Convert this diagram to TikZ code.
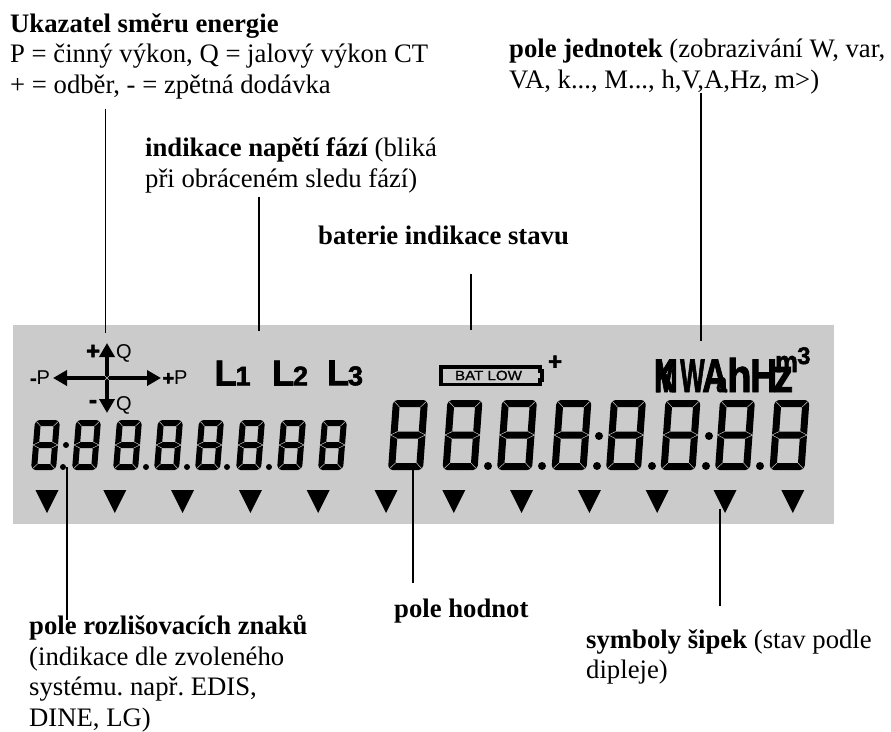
\documentclass[tikz,border=0pt]{standalone}
\usepackage{fontspec}
\setmainfont{Liberation Serif}
\setsansfont{Liberation Sans}[BoldFeatures={FakeBold=2}]
\newfontfamily\batfont{Liberation Sans}[FakeBold=1]
\usetikzlibrary{arrows.meta}
\definecolor{panelgray}{HTML}{CBCBCB}

\newcommand{\segdigit}[5]{%
  \begin{scope}[shift={(#1,#2)},#3]
    \pgfmathsetmacro{\su}{#4}
    \pgfmathsetmacro{\sv}{#5}
    \fill[even odd rule] [rounded corners=4.5pt] (0,0) -- (1,0) -- (1,1) -- (0,1) -- cycle
      [sharp corners] (\su,\sv) -- ({1-\su},\sv) -- ({1-\su},{.5-\sv/2}) -- (\su,{.5-\sv/2}) -- cycle
      (\su,{.5+\sv/2}) -- ({1-\su},{.5+\sv/2}) -- ({1-\su},{1-\sv}) -- (\su,{1-\sv}) -- cycle;
    \foreach \sx/\sy in {0/0,1/0,0/1,1/1}
      \draw[segtick] (\sx,\sy) -- ({\sx+\su*(1-2*\sx)},{\sy+\sv*(1-2*\sy)});
    \foreach \sx in {0,1}
      \draw[segtick] ({\sx+\su*(1-2*\sx)},{.5-\sv/2}) -- (\sx,.5) -- ({\sx+\su*(1-2*\sx)},{.5+\sv/2});
  \end{scope}}

\begin{document}
\begin{tikzpicture}[
  x=1pt, y=-1pt,
  textlabel/.style={anchor=north west, inner sep=0pt, align=left, font=\fontsize{26.7}{30.5}\selectfont\frenchspacing},
  leader/.style={draw, line width=1.7pt},
  segtick/.style={draw=panelgray, line width=.5pt},
  bigdigit/.style={x={(35pt,0pt)}, y={(-5pt,-70pt)}},
  smalldigit/.style={x={(25pt,0pt)}, y={(-4pt,-50pt)}},
  segdot/.style={fill, circle, inner sep=0pt},
  crossarm/.style={draw, line width=4.5pt, -{Triangle[length=14pt,width=15pt]}},
  crosstext/.style={inner sep=0pt, font=\sffamily\fontsize{20}{20}\selectfont},
  crosssign/.style={inner sep=0pt, font=\sffamily\bfseries\fontsize{24}{24}\selectfont},
  phasetext/.style={inner sep=0pt, font=\sffamily\bfseries\fontsize{36}{36}\selectfont},
  unitglyph/.style={inner sep=0pt, anchor=base west, font=\sffamily\bfseries\fontsize{47}{47}\selectfont},
]
  \useasboundingbox (0,0) rectangle (891,731);

  % Display panel
  \fill[panelgray] (13,325) rectangle (834,524);

  % Upper labels
  \node[textlabel] (enerlabel) at (10,13) {\textbf{Ukazatel směru energie}\\
    P = činný výkon, Q = jalový výkon CT\\
    + = odběr, - = zpětná dodávka};
  \node[textlabel] (phaselabel) at (145,137.5) {\textbf{indikace napětí fází} (bliká\\
    při obráceném sledu fází)};
  \node[textlabel] (batlabel) at (318,226) {\textbf{baterie indikace stavu}};
  \node[textlabel] (unitlabel) at (509,39) {\textbf{pole jednotek} (zobrazivání W, var,\\
    VA, k..., M..., h,V,A,Hz, m>)};

  % Lower labels
  \node[textlabel] (signlabel) at (29,615) {\textbf{pole rozlišovacích znaků}\\
    (indikace dle zvoleného\\
    systému. např. EDIS,\\
    DINE, LG)};
  \node[textlabel] (valuelabel) at (394,599) {\textbf{pole hodnot}};
  \node[textlabel] (arrowlabel) at (586,629) {\textbf{symboly šipek} (stav podle\\
    dipleje)};

  % Energy direction cross
  \coordinate (crossmid) at (107,378);
  \coordinate (crossup) at (107,343);
  \coordinate (crossdown) at (107,413);
  \coordinate (crossleft) at (53,378);
  \coordinate (crossright) at (161,378);
  \draw[crossarm] (crossmid) -- (crossup);
  \draw[crossarm] (crossmid) -- (crossdown);
  \draw[crossarm] (crossmid) -- (crossleft);
  \draw[crossarm] (crossmid) -- (crossright);
  \draw[segtick] (104,375) -- (110,381) (104,381) -- (110,375);
  \node[crosssign] (plusq) at (93,352) {+};
  \node[crosstext] (qup) at (124,353) {Q};
  \node[crosstext] (minusp) at (40,378) {\textbf{-}P};
  \node[crosstext] (plusp) at (175,378) {\textbf{+}P};
  \node[crosssign] (minusq) at (93,404) {-};
  \node[crosstext] (qdown) at (124,405) {Q};

  % Phase indicators
  \node[phasetext] (lone) at (232.5,373) {L\kern-1pt{\fontsize{27}{27}\selectfont 1}};
  \node[phasetext] (ltwo) at (290,373) {L\kern-1pt{\fontsize{27}{27}\selectfont 2}};
  \node[phasetext] (lthree) at (345,373) {L\kern-1pt{\fontsize{27}{27}\selectfont 3}};

  % Battery
  \draw[line width=3.5pt, line join=miter] (441,367) -- (540,367) -- (540,371) -- (542,371) -- (542,380) -- (540,380) -- (540,384.5) -- (441,384.5) -- cycle;
  \node[inner sep=0pt, font=\batfont\fontsize{13.5}{13.5}\selectfont] (batlow) at (488.5,375.5) {\scalebox{1.12}[1]{BAT LOW}};
  \node[inner sep=0pt, font=\sffamily\bfseries\fontsize{24}{24}\selectfont] (batplus) at (555,362.6) {+};

  % Units, overprinted as on the segment display
  \foreach \ux/\uglyph/\usx in {654/M/.6, 654/K/.62, 680/W/.55, 702/A/.75, 727/h/.85, 750/H/.8, 773/z/.85}
    \node[unitglyph] at (\ux,392) {\scalebox{\usx}[1]{\uglyph}};
  \node[unitglyph, font=\sffamily\bfseries\fontsize{28}{28}\selectfont] (unita) at (716,392) {\scalebox{.7}[1]{a}};
  \node[unitglyph, font=\sffamily\bfseries\fontsize{30}{30}\selectfont] (unitm) at (775,372) {\scalebox{.85}[1]{m}};
  \node[unitglyph, font=\sffamily\bfseries\fontsize{24}{24}\selectfont] (unitcube) at (797,364) {3};

  % Digits
  \foreach \i in {0,...,7} {
    \segdigit{35+41*\i}{420}{smalldigit}{.24}{.12}
    \segdigit{393+54.5*\i}{400}{bigdigit}{.2}{.1}
  }

  % Decimal points and colons
  \foreach \dx in {63,146,187,227,269}
    \node[segdot, minimum size=6pt] at (\dx,467) {};
  \node[segdot, minimum size=6pt] (smallcolon) at (66,445) {};
  \foreach \dx in {488,542,597,652,706,760}
    \node[segdot, minimum size=8pt] at (\dx,466) {};
  \node[segdot, minimum size=8pt] (bigcolona) at (599,436) {};
  \node[segdot, minimum size=8pt] (bigcolonb) at (709,436) {};

  % Arrow symbols
  \foreach \i in {0,...,11}
    \fill ({47+67.8*\i-11.5},490) -- ({47+67.8*\i+11.5},490) -- ({47+67.8*\i},513) -- cycle;

  % Leader lines
  \coordinate (crosstop) at (105.5,333);
  \coordinate (phasetop) at (259,331);
  \coordinate (battop) at (470.7,330);
  \coordinate (unittop) at (700.7,341);
  \coordinate (signdot) at (67,467);
  \coordinate (valuedigit) at (413,470);
  \coordinate (arrowmark) at (720,509);
  \draw[leader] ([yshift=-10.5pt]enerlabel.south -| crosstop) -- (crosstop);
  \draw[leader] ([yshift=-4.5pt]phaselabel.south -| phasetop) -- (phasetop);
  \draw[leader] ([yshift=-29pt]batlabel.south -| battop) -- (battop);
  \draw[leader] ([yshift=1.5pt]unitlabel.south -| unittop) -- (unittop);
  \draw[leader] (signdot) -- ([yshift=-5pt]signlabel.north -| signdot);
  \draw[leader] (valuedigit) -- ([yshift=16pt]valuelabel.north -| valuedigit);
  \draw[leader] (arrowmark) -- ([yshift=23pt]arrowlabel.north -| arrowmark);
\end{tikzpicture}
\end{document}
